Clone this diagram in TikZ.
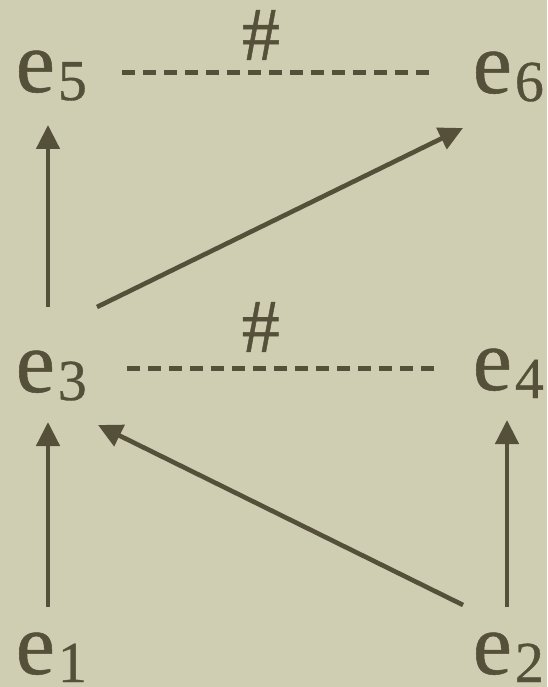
\documentclass[tikz,border=0pt]{standalone}
\usepackage{fontspec}
\setmainfont{Liberation Serif}
\newfontfamily\labfont[FakeBold=0.6]{Liberation Serif}
\usetikzlibrary{arrows.meta,calc}
\definecolor{bg}{HTML}{CFCDB2}
\definecolor{ink}{HTML}{555039}
\newcommand\esub[1]{e\kern3pt\raisebox{-8pt}{\fontsize{58}{58}\selectfont #1}}
\begin{document}
\begin{tikzpicture}[x=1pt,y=-1pt,
  lbl/.style={inner sep=0pt,outer sep=0pt,anchor=base west,text=ink,font=\labfont\fontsize{88}{88}\selectfont},
  hash/.style={inner sep=0pt,text=ink,font=\labfont\fontsize{76}{76}\selectfont},
  arr/.style={draw=ink,line width=4.6pt,-{Triangle[length=24pt,width=23pt]}},
  dsh/.style={draw=ink,line width=5pt,dash pattern=on 12.5pt off 8.5pt}]
\fill[bg] (0,0) rectangle (547,687);
\useasboundingbox (0,0) rectangle (547,687);
\node[lbl] (e5) at (15.8,92) {\esub{5}};
\node[lbl] (e6) at (472.8,93) {\esub{6}};
\node[lbl] (e3) at (15.8,392) {\esub{3}};
\node[lbl] (e4) at (472.8,390) {\esub{4}};
\node[lbl] (e1) at (15.8,674) {\esub{1}};
\node[lbl] (e2) at (472.8,674) {\esub{2}};
% arrows
\draw[arr] ($(e1.base west)+(32.2,-67)$) -- ($(e3.base west)+(32.2,30)$);
\draw[arr] ($(e3.base west)+(32.2,-85)$) -- ($(e5.base west)+(32.2,33)$);
\draw[arr] ($(e2.base west)+(34.2,-67)$) -- ($(e4.base west)+(34.2,30)$);
\draw[arr] ($(e2.base west)+(-9.8,-69)$) -- ($(e3.base west)+(82.2,33)$);
\draw[arr] ($(e3.base west)+(81.2,-85)$) -- ($(e6.base west)+(-9.8,35)$);
% incompatibility lines
\draw[dsh] ($(e5.base west)+(106.2,-19.5)$) -- ($(e6.base west)+(-39.8,-20.5)$)
  node[hash,pos=0.447,yshift=37.5pt] (h1) {\#};
\draw[dsh] ($(e3.base west)+(111.2,-24)$) -- ($(e4.base west)+(-34.8,-22)$)
  node[hash,pos=0.43,yshift=41pt] (h2) {\#};
\end{tikzpicture}
\end{document}
